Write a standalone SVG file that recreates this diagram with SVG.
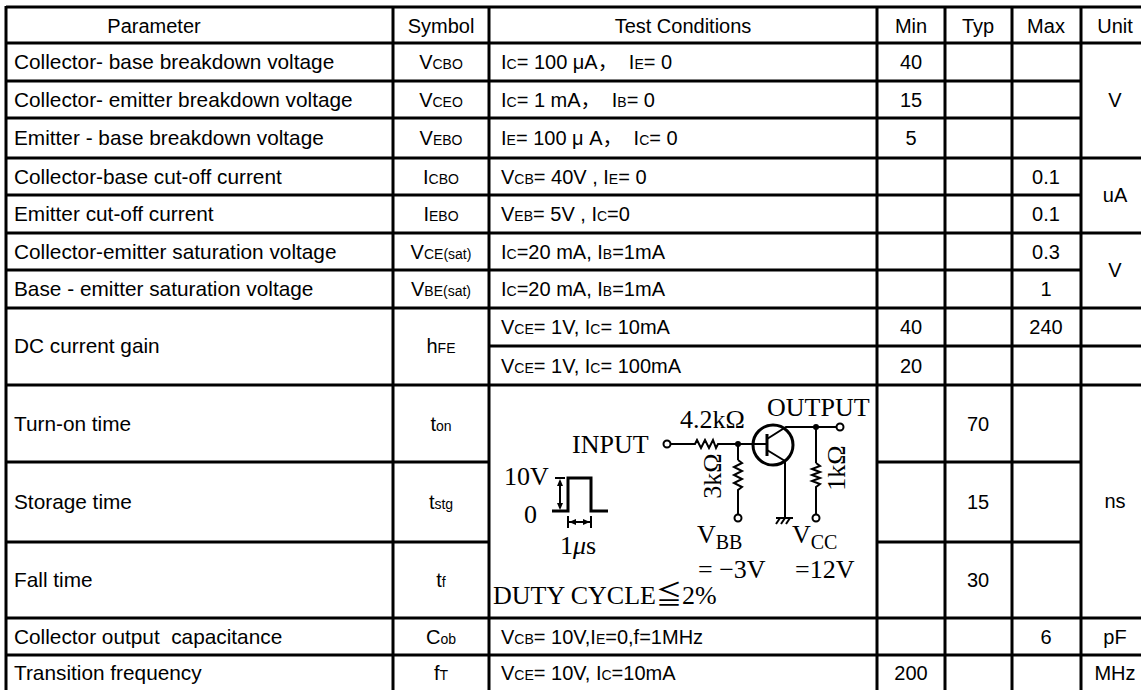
<svg xmlns="http://www.w3.org/2000/svg" width="1141" height="690" viewBox="0 0 1141 690">
<style>
.t{font-family:"Liberation Sans",Arial,"Noto Sans CJK SC",sans-serif;font-size:20px;fill:#000}
.p{font-size:20.8px}
.c{text-anchor:middle}
.s{font-size:14px}
.ln{stroke:#000;stroke-width:3;fill:none}
.cir{font-family:"Liberation Serif","DejaVu Serif","Noto Sans CJK SC",serif;font-size:26px;fill:#000}
.w{stroke:#000;stroke-width:2;fill:none;stroke-linejoin:miter}
.term{stroke:#000;stroke-width:2;fill:#fff}
</style>
<rect width="1141" height="690" fill="#fff"/>
<g id="grid" class="ln">
<line x1="6" y1="7" x2="1141" y2="7"/>
<line x1="6" y1="43" x2="1141" y2="43"/>
<line x1="6" y1="81" x2="1081" y2="81"/>
<line x1="6" y1="118" x2="1081" y2="118"/>
<line x1="6" y1="158" x2="1141" y2="158"/>
<line x1="6" y1="195" x2="1081" y2="195"/>
<line x1="6" y1="233" x2="1141" y2="233"/>
<line x1="6" y1="270" x2="1081" y2="270"/>
<line x1="6" y1="308" x2="1141" y2="308"/>
<line x1="489" y1="346" x2="1141" y2="346"/>
<line x1="6" y1="385" x2="1141" y2="385"/>
<line x1="6" y1="462" x2="489" y2="462"/>
<line x1="877" y1="462" x2="1081" y2="462"/>
<line x1="6" y1="542" x2="489" y2="542"/>
<line x1="877" y1="542" x2="1081" y2="542"/>
<line x1="6" y1="618" x2="1141" y2="618"/>
<line x1="6" y1="655" x2="1141" y2="655"/>
<line x1="6" y1="6" x2="6" y2="690"/>
<line x1="393" y1="6" x2="393" y2="690"/>
<line x1="489" y1="6" x2="489" y2="690"/>
<line x1="877" y1="6" x2="877" y2="690"/>
<line x1="945" y1="6" x2="945" y2="690"/>
<line x1="1012" y1="6" x2="1012" y2="690"/>
<line x1="1081" y1="6" x2="1081" y2="690"/>
</g>
<g id="header" class="t">
<text x="154" y="33" class="c">Parameter</text>
<text x="441" y="33" class="c">Symbol</text>
<text x="683" y="33" class="c">Test Conditions</text>
<text x="911" y="33" class="c">Min</text>
<text x="978" y="33" class="c">Typ</text>
<text x="1046" y="33" class="c">Max</text>
<text x="1115" y="33" class="c">Unit</text>
</g>
<g id="parameters" class="t p">
<text x="14" y="69">Collector- base breakdown voltage</text>
<text x="14" y="107">Collector- emitter breakdown voltage</text>
<text x="14" y="145">Emitter - base breakdown voltage</text>
<text x="14" y="184">Collector-base cut-off current</text>
<text x="14" y="221">Emitter cut-off current</text>
<text x="14" y="259">Collector-emitter saturation voltage</text>
<text x="14" y="296">Base - emitter saturation voltage</text>
<text x="14" y="353">DC current gain</text>
<text x="14" y="431">Turn-on time</text>
<text x="14" y="509">Storage time</text>
<text x="14" y="587">Fall time</text>
<text x="14" y="644" xml:space="preserve">Collector output  capacitance</text>
<text x="14" y="680">Transition frequency</text>
</g>
<g id="symbols" class="t c">
<text x="441" y="69">V<tspan class="s">CBO</tspan></text>
<text x="441" y="107">V<tspan class="s">CEO</tspan></text>
<text x="441" y="145">V<tspan class="s">EBO</tspan></text>
<text x="441" y="184">I<tspan class="s">CBO</tspan></text>
<text x="441" y="221">I<tspan class="s">EBO</tspan></text>
<text x="441" y="259">V<tspan class="s">CE(sat)</tspan></text>
<text x="441" y="296">V<tspan class="s">BE(sat)</tspan></text>
<text x="441" y="353">h<tspan class="s">FE</tspan></text>
<text x="441" y="431">t<tspan class="s">on</tspan></text>
<text x="441" y="509">t<tspan class="s">stg</tspan></text>
<text x="441" y="587">t<tspan class="s">f</tspan></text>
<text x="441" y="644">C<tspan class="s">ob</tspan></text>
<text x="441" y="680">f<tspan class="s">T</tspan></text>
</g>
<g id="conditions" class="t">
<text x="501" y="69" xml:space="preserve">I<tspan class="s">C</tspan>= 100 μA，  I<tspan class="s">E</tspan>= 0</text>
<text x="501" y="107" xml:space="preserve">I<tspan class="s">C</tspan>= 1 mA，  I<tspan class="s">B</tspan>= 0</text>
<text x="501" y="145" xml:space="preserve">I<tspan class="s">E</tspan>= 100 μ A，  I<tspan class="s">C</tspan>= 0</text>
<text x="501" y="184" xml:space="preserve">V<tspan class="s">CB</tspan>= 40V , I<tspan class="s">E</tspan>= 0</text>
<text x="501" y="221" xml:space="preserve">V<tspan class="s">EB</tspan>= 5V , I<tspan class="s">C</tspan>=0</text>
<text x="501" y="259" xml:space="preserve">I<tspan class="s">C</tspan>=20 mA, I<tspan class="s">B</tspan>=1mA</text>
<text x="501" y="296" xml:space="preserve">I<tspan class="s">C</tspan>=20 mA, I<tspan class="s">B</tspan>=1mA</text>
<text x="501" y="334" xml:space="preserve">V<tspan class="s">CE</tspan>= 1V, I<tspan class="s">C</tspan>= 10mA</text>
<text x="501" y="373" xml:space="preserve">V<tspan class="s">CE</tspan>= 1V, I<tspan class="s">C</tspan>= 100mA</text>
<text x="501" y="644" xml:space="preserve">V<tspan class="s">CB</tspan>= 10V,I<tspan class="s">E</tspan>=0,f=1MHz</text>
<text x="501" y="680" xml:space="preserve">V<tspan class="s">CE</tspan>= 10V, I<tspan class="s">C</tspan>=10mA</text>
</g>
<g id="values" class="t c">
<text x="911" y="69">40</text>
<text x="911" y="107">15</text>
<text x="911" y="145">5</text>
<text x="911" y="334">40</text>
<text x="911" y="373">20</text>
<text x="911" y="680">200</text>
<text x="978" y="431">70</text>
<text x="978" y="509">15</text>
<text x="978" y="587">30</text>
<text x="1046" y="184">0.1</text>
<text x="1046" y="221">0.1</text>
<text x="1046" y="259">0.3</text>
<text x="1046" y="296">1</text>
<text x="1046" y="334">240</text>
<text x="1046" y="644">6</text>
</g>
<g id="units" class="t c">
<text x="1115" y="107">V</text>
<text x="1115" y="202">uA</text>
<text x="1115" y="277">V</text>
<text x="1115" y="508">ns</text>
<text x="1115" y="644">pF</text>
<text x="1115" y="680">MHz</text>
</g>
<g id="circuit">
<text class="cir" x="767" y="416">OUTPUT</text>
<text class="cir" x="680" y="428">4.2kΩ</text>
<text class="cir" x="572" y="453">INPUT</text>
<text class="cir" x="504" y="485">10V</text>
<text class="cir" x="524" y="523">0</text>
<text class="cir" x="560" y="554">1<tspan font-style="italic">μ</tspan>s</text>
<text class="cir" x="697" y="543">V<tspan font-size="20" dy="6">BB</tspan></text>
<text class="cir" x="792" y="543">V<tspan font-size="20" dy="6">CC</tspan></text>
<text class="cir" x="698" y="578" xml:space="preserve">= −3V</text>
<text class="cir" x="795" y="578">=12V</text>
<text class="cir" x="493" y="604">DUTY CYCLE≦2%</text>
<text class="cir" font-size="22" text-anchor="middle" transform="translate(721,476) rotate(-90)">3kΩ</text>
<text class="cir" font-size="22" text-anchor="middle" transform="translate(845,468) rotate(-90)">1kΩ</text>
<g class="w">
<polyline points="671,444 695,444 697,440 701,448 705,440 709,448 713,440 716,448 718,444 767,444"/>
<line x1="738" y1="444" x2="738" y2="460"/>
<polyline points="738,460 742,463 734,467 742,471 734,475 742,479 734,483 742,487 738,490 738,514"/>
<line x1="816" y1="427" x2="816" y2="463"/>
<polyline points="816,463 820,466 812,469 820,472 812,475 820,478 812,481 820,484 816,487 816,514"/>
<polyline points="767,439 786,427 836,427"/>
<polyline points="767,450 785,461 785,518"/>
<line x1="776" y1="518" x2="793" y2="518"/>
<line x1="780" y1="518" x2="776" y2="524"/>
<line x1="785" y1="518" x2="781" y2="524"/>
<line x1="790" y1="518" x2="786" y2="524"/>
<polyline stroke-width="3" points="552,511 568,511 568,478 591,478 591,511 608,511"/>
<line x1="555" y1="478" x2="565" y2="478"/>
<line x1="560" y1="481" x2="560" y2="508"/>
<line x1="568" y1="522" x2="591" y2="522"/>
<line x1="568" y1="516" x2="568" y2="528"/>
<line x1="591" y1="516" x2="591" y2="528"/>
</g>
<polygon points="560,479 557,486 563,486"/>
<polygon points="560,510 557,503 563,503"/>
<polygon points="569,522 576,519 576,525"/>
<polygon points="590,522 583,519 583,525"/>
<circle cx="773" cy="445" r="20" stroke="#000" stroke-width="3" fill="none"/>
<line x1="767" y1="434" x2="767" y2="456" stroke="#000" stroke-width="3"/>
<circle cx="738" cy="444" r="3" fill="#000"/>
<circle cx="816" cy="427" r="3" fill="#000"/>
<circle class="term" cx="667" cy="444" r="3.5"/>
<circle class="term" cx="840" cy="427" r="3.5"/>
<circle class="term" cx="738" cy="518" r="3.5"/>
<circle class="term" cx="816" cy="518" r="3.5"/>
</g>
</svg>
